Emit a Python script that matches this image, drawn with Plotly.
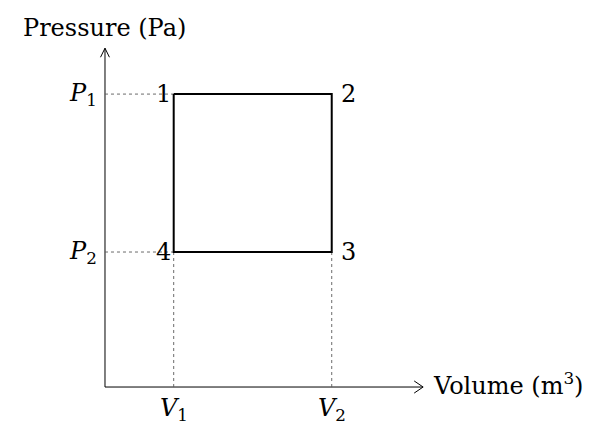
"""
P-V diagram: rectangular cycle 1-2-3-4 drawn in Plotly.
"""
import plotly.graph_objects as go

# ── Data ──────────────────────────────────────────────────────────────────────
VOLUMES = [1.0, 3.3]          # V1, V2
PRESSURES = [2.17, 1.0]       # P1, P2
CYCLE_STATES = ["1", "2", "3", "4"]
CYCLE_V = [1.0, 3.3, 3.3, 1.0]
CYCLE_P = [2.17, 2.17, 1.0, 1.0]
V_LABELS = ["<i>V</i><sub>1</sub>", "<i>V</i><sub>2</sub>"]
P_LABELS = ["<i>P</i><sub>1</sub>", "<i>P</i><sub>2</sub>"]

X_TIP = 4.63
Y_TIP = 2.51

FONT = "DejaVu Serif, Liberation Serif, serif"
FS = 24
DOT = "rgba(90,90,90,0.9)"

fig = go.Figure()

# axes
fig.add_trace(go.Scatter(x=[0, X_TIP], y=[0, 0], mode="lines",
                         line=dict(color="black", width=1), hoverinfo="skip"))
fig.add_trace(go.Scatter(x=[0, 0], y=[0, Y_TIP], mode="lines",
                         line=dict(color="black", width=1), hoverinfo="skip"))
# open arrow heads (TikZ style)
ax, ay = 0.13, 0.045
fig.add_trace(go.Scatter(x=[X_TIP - ax, X_TIP, X_TIP - ax], y=[ay, 0, -ay],
                         mode="lines", line=dict(color="black", width=1),
                         hoverinfo="skip"))
bx, by = 0.065, 0.067
fig.add_trace(go.Scatter(x=[-bx, 0, bx], y=[Y_TIP - by, Y_TIP, Y_TIP - by],
                         mode="lines", line=dict(color="black", width=1),
                         hoverinfo="skip"))

# dotted guide lines
for p in PRESSURES:
    fig.add_trace(go.Scatter(x=[0, VOLUMES[0]], y=[p, p], mode="lines",
                             line=dict(color=DOT, width=1, dash="dot"),
                             hoverinfo="skip"))
for v in VOLUMES:
    fig.add_trace(go.Scatter(x=[v, v], y=[0, min(PRESSURES)], mode="lines",
                             line=dict(color=DOT, width=1, dash="dot"),
                             hoverinfo="skip"))

# cycle rectangle
fig.add_trace(go.Scatter(x=CYCLE_V + [CYCLE_V[0]], y=CYCLE_P + [CYCLE_P[0]],
                         mode="lines", line=dict(color="black", width=2),
                         hoverinfo="skip"))

# state labels
for s, v, p in zip(CYCLE_STATES, CYCLE_V, CYCLE_P):
    left = v == VOLUMES[0]
    fig.add_annotation(x=v, y=p, text=s, showarrow=False,
                       xanchor="right" if left else "left",
                       xshift=-1 if left else 7, yshift=0,
                       font=dict(family=FONT, size=FS, color="black"))

# tick labels
for v, lab in zip(VOLUMES, V_LABELS):
    fig.add_annotation(x=v, y=0, text=lab, showarrow=False, yanchor="top",
                       yshift=-5, font=dict(family=FONT, size=FS, color="black"))
for p, lab in zip(PRESSURES, P_LABELS):
    fig.add_annotation(x=0, y=p, text=lab, showarrow=False, xanchor="right",
                       xshift=-6, font=dict(family=FONT, size=FS, color="black"))

# axis titles
fig.add_annotation(x=X_TIP, y=0, text="Volume (m<sup>3</sup>)", showarrow=False,
                   xanchor="left", xshift=8, yshift=3,
                   font=dict(family=FONT, size=FS, color="black"))
fig.add_annotation(x=0, y=Y_TIP, text="Pressure (Pa)", showarrow=False,
                   yanchor="bottom", yshift=4,
                   font=dict(family=FONT, size=FS, color="black"))

fig.update_layout(
    width=610, height=429,
    margin=dict(l=0, r=0, t=0, b=0),
    paper_bgcolor="white", plot_bgcolor="white",
    showlegend=False,
    xaxis=dict(range=[-1.528, 7.35], visible=False, fixedrange=True),
    yaxis=dict(range=[-0.311, 2.867], visible=False, fixedrange=True),
)

fig.write_html("out.html", config={"displayModeBar": False},
               post_script="document.body.style.margin='0';")
